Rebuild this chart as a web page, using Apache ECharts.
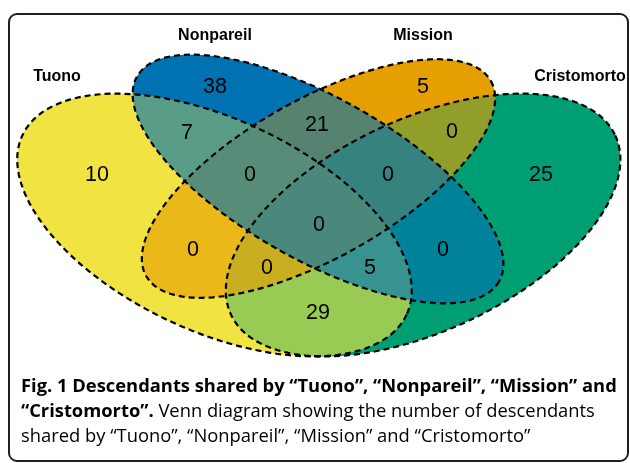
<!DOCTYPE html>
<html>
<head>
<meta charset="utf-8">
<script src="https://cdn.jsdelivr.net/npm/echarts@6/dist/echarts.min.js"></script>
<style>
  html, body { margin: 0; padding: 0; background: #fff; }
  #chart { width: 630px; height: 463px; }
</style>
</head>
<body>
<div id="chart"></div>
<script>
// sets, drawn bottom -> top for the blending
var setNames = ['Tuono', 'Nonpareil', 'Mission', 'Cristomorto']
var setColors = ['#F0E442', '#0072B2', '#E69F00', '#009E73']

// region counts (T = Tuono, N = Nonpareil, M = Mission, C = Cristomorto)
var regionKeys = ['T', 'N', 'M', 'C', 'TN', 'NM', 'MC', 'TM', 'NC', 'TC', 'TNM', 'NMC', 'TMC', 'TNC', 'TNMC']
var regionCounts = [10, 38, 5, 25, 7, 21, 0, 0, 0, 29, 0, 0, 0, 5, 0]

// layout (chart pixel space, y down): ellipse cx, cy, semi-major, semi-minor, tilt
var ellipses = [
  [214.5, 225, 212, 106, 25],
  [318, 179, 208, 81, 29.5],
  [318.5, 178.5, 198, 79, -29.5],
  [423.1, 225, 212, 106, -25]
]
var regionAnchors = {
  T: [97, 175], N: [215, 87], M: [423, 87], C: [541, 175],
  TN: [187, 133], NM: [317, 125], MC: [452, 132], TM: [193, 250],
  NC: [443, 250], TC: [318, 313], TNM: [250, 175], NMC: [388, 175],
  TMC: [267, 268], TNC: [370, 268], TNMC: [319, 225]
}
var nameAnchors = [[57, 77], [215, 36], [423, 36], [580, 77]]

// alpha order bottom -> top: Cristomorto, Tuono, Mission, Nonpareil
var drawOrder = [3, 0, 2, 1]
var fillAlpha = 0.63

function ellipsePoints(api, e) {
  var pts = []
  var th = e[4] * Math.PI / 180
  for (var i = 0; i < 160; i++) {
    var t = i / 160 * Math.PI * 2
    var x = e[0] + e[2] * Math.cos(t) * Math.cos(th) - e[3] * Math.sin(t) * Math.sin(th)
    var y = e[1] + e[2] * Math.cos(t) * Math.sin(th) + e[3] * Math.sin(t) * Math.cos(th)
    pts.push(api.coord([x, y]))
  }
  return pts
}

function ellipseSeries(order, styleFn, z) {
  return {
    type: 'custom',
    coordinateSystem: 'cartesian2d',
    silent: true,
    z: z,
    data: order.map(function (k) { return [ellipses[k][0], ellipses[k][1], k] }),
    encode: { x: 0, y: 1 },
    renderItem: function (params, api) {
      var k = api.value(2)
      return {
        type: 'polygon',
        shape: { points: ellipsePoints(api, ellipses[k]) },
        style: styleFn(k)
      }
    }
  }
}

var captionFamily = '"Open Sans", "Noto Sans", sans-serif'
var line1 = 'Fig. 1 Descendants shared by \u201cTuono\u201d, \u201cNonpareil\u201d, \u201cMission\u201d and'
function fitSize(text, weight, family, target) {
  var ctx = document.createElement('canvas').getContext('2d')
  ctx.font = weight + ' 100px ' + family
  return 100 * target / ctx.measureText(text).width
}
var capSize = fitSize(line1, 'bold', captionFamily, 596)

var chart = echarts.init(document.getElementById('chart'))
chart.setOption({
  backgroundColor: '#fff',
  animation: false,
  grid: { left: 0, right: 0, top: 0, bottom: 0 },
  xAxis: { type: 'value', min: 0, max: 630, show: false },
  yAxis: { type: 'value', min: 0, max: 463, inverse: true, show: false },
  series: [
    // opaque base: lowest covering set shows through
    ellipseSeries(drawOrder.slice().reverse(), function (k) {
      return { fill: setColors[k] }
    }, 1),
    ellipseSeries(drawOrder, function (k) {
      return { fill: setColors[k], opacity: fillAlpha }
    }, 2),
    ellipseSeries(drawOrder, function (k) {
      return { fill: 'none', stroke: '#000', lineWidth: 2.2, lineDash: [6, 4] }
    }, 3),
    {
      type: 'scatter',
      silent: true,
      z: 4,
      symbolSize: 0,
      itemStyle: { opacity: 1 },
      data: regionKeys.map(function (key, i) {
        return { value: [regionAnchors[key][0], regionAnchors[key][1], regionCounts[i]] }
      }),
      label: {
        show: true,
        position: 'inside',
        formatter: function (p) { return p.value[2] },
        color: '#000',
        opacity: 1,
        fontSize: 21.5,
        fontFamily: '"Liberation Sans", Arial, sans-serif'
      }
    },
    {
      type: 'scatter',
      silent: true,
      z: 4,
      symbolSize: 0,
      itemStyle: { opacity: 1 },
      data: setNames.map(function (n, i) {
        return { value: nameAnchors[i], name: n }
      }),
      label: {
        show: true,
        position: 'inside',
        formatter: '{b}',
        color: '#000',
        opacity: 1,
        fontSize: 16,
        fontWeight: 'bold',
        fontFamily: '"Liberation Sans", Arial, sans-serif'
      }
    }
  ],
  graphic: [
    {
      type: 'rect',
      z: 10,
      silent: true,
      shape: { x: 9, y: 14, width: 619, height: 447, r: 8 },
      style: { fill: 'none', stroke: '#231f20', lineWidth: 2 }
    },
    {
      type: 'text',
      z: 10,
      left: 21,
      top: 374,
      style: {
        text: '{b|' + line1 + '}\n{b|\u201cCristomorto\u201d.} {n|Venn diagram showing the number of descendants}\n' +
          '{n|shared by \u201cTuono\u201d, \u201cNonpareil\u201d, \u201cMission\u201d and \u201cCristomorto\u201d}',
        lineHeight: 25,
        fontSize: capSize,
        fontFamily: captionFamily,
        rich: {
          b: { fontWeight: 'bold', color: '#231f20', fontSize: capSize, fontFamily: captionFamily, lineHeight: 25 },
          n: { color: '#3d3d3d', fontSize: capSize, fontFamily: captionFamily, lineHeight: 25 }
        }
      }
    }
  ]
})
</script>
</body>
</html>
